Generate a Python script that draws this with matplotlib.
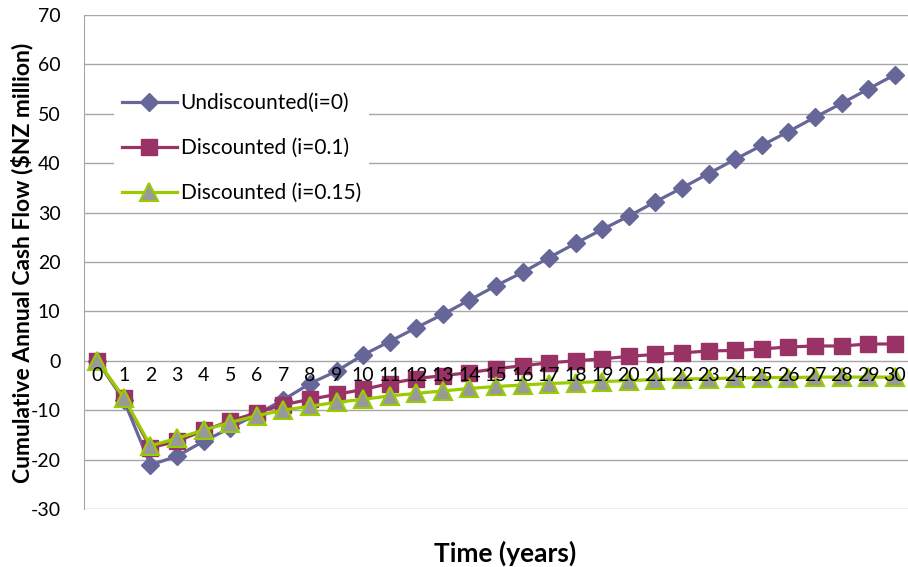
import matplotlib
matplotlib.use("Agg")
import matplotlib.pyplot as plt

plt.rcParams['font.family'] = ['Lato', 'DejaVu Sans']

years = list(range(31))
undiscounted = [0, -8.0, -21.1, -19.3, -16.3, -13.6, -10.8, -7.9, -4.6, -2.1, 1.2,
                3.9, 6.7, 9.4, 12.3, 15.2, 17.9, 20.9, 23.8, 26.6, 29.3,
                32.2, 35.0, 37.9, 40.8, 43.6, 46.4, 49.3, 52.1, 55.0, 57.9]
disc_10 = [0, -7.6, -17.6, -16.3, -14.1, -12.2, -10.5, -8.9, -7.8, -6.8, -5.8,
           -4.6, -3.6, -3.0, -2.4, -1.6, -1.0, -0.4, 0.0, 0.4, 0.9,
           1.3, 1.6, 2.0, 2.1, 2.4, 2.8, 3.0, 3.0, 3.4, 3.4]
disc_15 = [0, -7.5, -17.2, -15.7, -14.0, -12.5, -11.1, -10.0, -9.2, -8.4, -7.8,
           -7.1, -6.6, -6.1, -5.6, -5.2, -4.9, -4.6, -4.4, -4.2, -4.0,
           -3.8, -3.7, -3.6, -3.5, -3.4, -3.4, -3.3, -3.3, -3.3, -3.3]
series_names = ["Undiscounted(i=0)", "Discounted (i=0.1)", "Discounted (i=0.15)"]
y_ticks = list(range(-30, 71, 10))

fig = plt.figure(figsize=(9.08, 5.67), dpi=100)
ax = fig.add_axes([84 / 908, 1 - 509 / 567, (908 - 84) / 908, (509 - 15) / 567])

ax.plot(years, undiscounted, color="#666699", lw=2.3, marker="D", ms=9.5,
        markerfacecolor="#666699", markeredgecolor="#666699", zorder=3,
        label=series_names[0])
ax.plot(years, disc_10, color="#993366", lw=2.3, marker="s", ms=11,
        markerfacecolor="#993366", markeredgecolor="#993366", zorder=4,
        label=series_names[1])
ax.plot(years, disc_15, color="#99CC00", lw=2.3, marker="^", ms=12.5,
        markerfacecolor="#999999", markeredgecolor="#99CC00", mew=1.5, zorder=5,
        label=series_names[2])

ax.set_xlim(-0.5, 30.5)
ax.set_ylim(-30, 70)
ax.set_yticks(y_ticks)
ax.set_yticklabels([str(v) for v in y_ticks], fontsize=14)
ax.yaxis.grid(True, color="#A6A6A6", lw=1.0)
ax.set_axisbelow(True)

for side in ("top", "right", "bottom"):
    ax.spines[side].set_visible(False)
ax.spines["left"].set_color("#A6A6A6")
ax.tick_params(axis="y", length=0, pad=17, colors="black")

# category labels sit just under the zero line
ax.set_xticks(years)
ax.set_xticklabels([])
ax.tick_params(axis="x", length=0)
for x in years:
    ax.text(x, -1.2, str(x), ha="center", va="top", fontsize=14, zorder=6)

fig.text(22 / 908, 1 - 263 / 567, "Cumulative Annual Cash Flow ($NZ million)",
         rotation=90, ha="center", va="center", fontsize=16.5, fontweight="bold")
fig.text(505 / 908, 1 - 553 / 567, "Time (years)", ha="center", va="center",
         fontsize=19, fontweight="bold")

leg = ax.legend(loc="upper left", bbox_to_anchor=(30 / 824, 1 - 70 / 494),
                frameon=True, fontsize=15, handlelength=2.6, labelspacing=1.2,
                borderaxespad=0, handletextpad=0.2, markerscale=1.0)
leg.get_frame().set_edgecolor("none")
leg.get_frame().set_facecolor("white")
leg.get_frame().set_alpha(1)

fig.savefig("out.png", dpi=100)
